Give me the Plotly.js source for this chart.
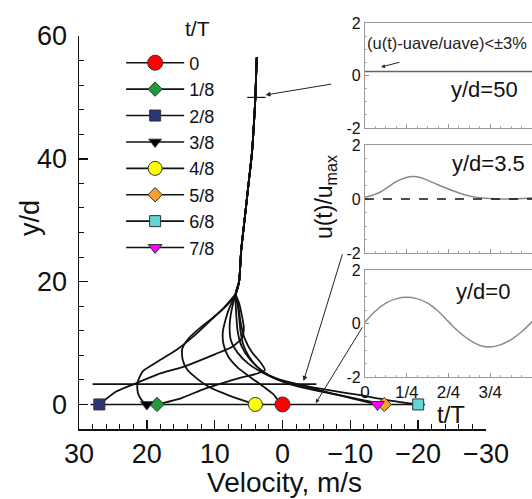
<!DOCTYPE html>
<html><head><meta charset="utf-8">
<script src="https://cdn.plot.ly/plotly-3.0.1.min.js"></script>
<style>html,body{margin:0;padding:0;background:#fff}</style>
</head><body><div id="chart" style="width:532px;height:499px"></div>
<script>
// ---- data ----
const phases = ['0','1/8','2/8','3/8','4/8','5/8','6/8','7/8'];
// near-wall part of each velocity profile (m/s vs y/d)
const p0x = [0, 0.6, 1.3, 2.8, 4.7, 6.6, 8.0, 8.7, 8.8, 8.4, 7.8, 7.2];
const p0y = [0, 0.6, 1.6, 2.9, 4.4, 6.0, 7.8, 9.8, 11.8, 13.8, 15.8, 17.2];
const p1x = [18.5, 15, 11.6, 8.5, 6.0, 3.8, 2.6, 3.2, 4.5, 5.6, 6.2, 6.5];
const p1y = [0, 1.0, 2.5, 3.6, 4.4, 5.0, 5.6, 6.8, 8.5, 10.8, 13.5, 16];
const p2x = [27, 24.5, 21.7, 18.4, 15, 12.8, 9.9, 7.4, 6.0, 5.7, 6.0, 6.4];
const p2y = [0, 2.1, 3.4, 4.9, 6.0, 6.9, 8.2, 9.4, 10.8, 12.5, 14.5, 16.5];
const p3x = [20, 20.6, 21.2, 21.4, 21.3, 20.6, 18.4, 15.6, 13.0, 10.5, 8.6, 7.5];
const p3y = [0, 0.5, 1.5, 2.5, 3.8, 5.4, 7.0, 8.9, 11.2, 13.8, 15.8, 17.2];
const p4x = [4, 6.5, 9.1, 11.2, 12.6, 14.0, 14.7, 14.8, 13.8, 11.8, 9.5, 7.8];
const p4y = [0, 0.9, 2.0, 3.1, 4.2, 5.6, 7.2, 9.0, 10.8, 12.8, 14.8, 16.6];
const p5x = [-15, -11.5, -7.5, -3.5, -0.5, 2.0, 3.8, 5.0, 5.8, 6.2, 6.4, 6.6];
const p5y = [0, 0.8, 1.7, 2.6, 3.5, 4.7, 6.2, 7.9, 9.8, 12, 14.2, 16.2];
const p6x = [-20, -15, -11.5, -7.5, -2.7, 0.5, 2.8, 4.7, 6.0, 6.6, 6.8, 6.9];
const p6y = [0, 0.8, 1.5, 2.2, 3.2, 4.1, 5.3, 7.2, 9.4, 11.8, 14.3, 16.5];
const p7x = [-14, -10.5, -7, -3.2, 0.3, 2.8, 5.0, 6.6, 7.6, 7.8, 7.6, 7.2];
const p7y = [0, 0.9, 1.9, 2.9, 3.9, 5.1, 6.6, 8.4, 10.4, 12.6, 14.8, 16.8];
// common upper part of all profiles
const stemX = [6.9, 6.4, 6.1, 5.6, 5.0, 4.5, 4.2, 4.0, 3.8];
const stemY = [18, 20, 25, 30, 36, 41, 46, 50, 56.5];
// wall velocity for each phase (marker at y/d = 0)
const wallU = [0, 18.5, 27, 20, 4, -15, -20, -14];
const wallY = [0, 0, 0, 0, 0, 0, 0, 0];

// insets: u(t)/umax over one period
const ins1T = [0, 0.25, 0.5, 0.75, 1];
const ins1U = [0.15, 0.15, 0.15, 0.15, 0.15];
const ins2T = [0, 0.05, 0.09, 0.14, 0.18, 0.23, 0.28, 0.33, 0.38, 0.44, 0.5, 0.56, 0.62, 0.67, 0.72, 0.8, 0.9, 1.0];
const ins2U = [0.06, 0.15, 0.25, 0.45, 0.62, 0.76, 0.83, 0.8, 0.68, 0.52, 0.37, 0.23, 0.12, 0.06, 0.03, 0.0, 0.01, 0.05];
const ins3T = [0, 0.06, 0.125, 0.19, 0.25, 0.31, 0.375, 0.44, 0.5, 0.56, 0.625, 0.69, 0.75, 0.81, 0.875, 0.94, 1];
const ins3U = [0.05, 0.45, 0.76, 0.93, 0.98, 0.93, 0.76, 0.45, 0.07, -0.3, -0.61, -0.82, -0.88, -0.8, -0.6, -0.3, 0.07];
const insTickVals = [0, 0.25, 0.5, 0.75, 1];
const insTickText = ['0', '1/4', '2/4', '3/4', '1'];

// ---- styles ----
const symbols = ['circle','diamond','square','triangle-down','circle','diamond','square','triangle-down'];
const colors = ['#ff0000','#1f9a3c','#2b3577','#000000','#ffff00','#f7a030','#5fd7d7','#ff00ff'];
const sizes = [15, 11, 11, 11, 14, 11, 11, 12];

const profX = [p0x,p1x,p2x,p3x,p4x,p5x,p6x,p7x];
const profY = [p0y,p1y,p2y,p3y,p4y,p5y,p6y,p7y];

const traces = [];
for (let i = 0; i < 8; i++) {
  traces.push({
    x: profX[i].concat(stemX), y: profY[i].concat(stemY),
    mode: 'lines', line: {color: '#111', width: 1.8, shape: 'spline', smoothing: 0.6},
    showlegend: false, hoverinfo: 'skip', xaxis: 'x', yaxis: 'y'
  });
}
for (let i = 0; i < 8; i++) {
  traces.push({
    x: [wallU[i]], y: [wallY[i]], name: phases[i],
    mode: 'lines+markers', line: {color: '#111', width: 1.6},
    marker: {symbol: symbols[i], color: colors[i], size: sizes[i], line: {color: '#333', width: 1}},
    cliponaxis: false, xaxis: 'x', yaxis: 'y'
  });
}
traces.push({x: ins1T, y: ins1U, mode: 'lines', line: {color: '#666', width: 1.5}, showlegend: false, xaxis: 'x2', yaxis: 'y2'});
traces.push({x: ins2T, y: ins2U, mode: 'lines', line: {color: '#8a8a8a', width: 1.5, shape: 'spline'}, showlegend: false, xaxis: 'x3', yaxis: 'y3'});
traces.push({x: ins3T, y: ins3U, mode: 'lines', line: {color: '#8a8a8a', width: 1.5, shape: 'spline'}, showlegend: false, xaxis: 'x4', yaxis: 'y4'});

const FONT = 'Liberation Sans, Arial, sans-serif';
const insX = (anchor, labels) => ({
  domain: [0.6313, 1], range: [0, 1], anchor: anchor,
  tickmode: 'array', tickvals: insTickVals, ticktext: insTickText,
  showticklabels: labels, ticks: 'inside', ticklen: 4, tickcolor: '#999',
  minor: {dtick: 0.0625, tick0: 0, ticks: 'inside', ticklen: 2, tickcolor: '#aaa'},
  showline: true, mirror: true, linecolor: '#999', linewidth: 1,
  showgrid: false, zeroline: false, tickfont: {size: 17, color: '#111'}
});
const insY = (anchor, dom) => ({
  domain: dom, range: [-2, 2], anchor: anchor,
  tickmode: 'array', tickvals: [-2, 0, 2], ticktext: ['-2', '0', '2'],
  ticks: 'inside', ticklen: 4, tickcolor: '#999',
  minor: {dtick: 0.5, tick0: 0, ticks: 'inside', ticklen: 2, tickcolor: '#aaa'},
  showline: true, mirror: true, linecolor: '#999', linewidth: 1,
  showgrid: false, zeroline: false, tickfont: {size: 16, color: '#111'}
});

const layout = {
  width: 532, height: 499,
  margin: {l: 79, r: 0, t: 20, b: 70},
  paper_bgcolor: '#fff', plot_bgcolor: 'rgba(0,0,0,0)',
  font: {family: FONT, color: '#111'},
  showlegend: true,
  legend: {
    x: 0.093, y: 0.94, xanchor: 'left', yanchor: 'top',
    bgcolor: 'rgba(0,0,0,0)', font: {size: 18, family: FONT},
    itemwidth: 58, tracegroupgap: 0, maxheight: 420
  },
  xaxis: {
    domain: [0, 0.8985], range: [30, -30], anchor: 'y',
    tickmode: 'linear', tick0: 0, dtick: 10,
    ticks: 'inside', ticklen: 9, tickwidth: 1.5, tickcolor: '#111',
    minor: {dtick: 2, tick0: 0, ticks: 'inside', ticklen: 5, tickwidth: 1, tickcolor: '#111'},
    showline: true, linewidth: 1.5, linecolor: '#111',
    showgrid: false, zeroline: false, tickfont: {size: 27}
  },
  yaxis: {
    domain: [0, 0.9609], range: [-4, 60], anchor: 'x',
    tickmode: 'linear', tick0: 0, dtick: 20,
    ticks: 'inside', ticklen: 9, tickwidth: 1.5, tickcolor: '#111',
    minor: {dtick: 4, tick0: 0, ticks: 'inside', ticklen: 5, tickwidth: 1, tickcolor: '#111'},
    showline: true, linewidth: 1.5, linecolor: '#111',
    showgrid: false, zeroline: false, tickfont: {size: 27}, ticklabelstandoff: 5
  },
  xaxis2: insX('y2', false), yaxis2: insY('x2', [0.7359, 0.9927]),
  xaxis3: insX('y3', false), yaxis3: insY('x3', [0.4303, 0.6944]),
  xaxis4: insX('y4', true),  yaxis4: insY('x4', [0.1271, 0.3888]),
  shapes: [
    {type: 'line', xref: 'x', yref: 'y', x0: 28.3, x1: -21, y0: 0, y1: 0, line: {color: '#111', width: 1.6}, layer: 'below'},
    {type: 'line', xref: 'x', yref: 'y', x0: 28, x1: -5, y0: 3.3, y1: 3.3, line: {color: '#111', width: 1.6}},
    {type: 'line', xref: 'x', yref: 'y', x0: 5.2, x1: 2.5, y0: 50, y1: 50, line: {color: '#111', width: 1.2}},
    {type: 'line', xref: 'x3', yref: 'y3', x0: 0, x1: 1, y0: 0, y1: 0, line: {color: '#111', width: 1.5, dash: 'dash'}}
  ],
  annotations: [
    {text: '', xref: 'x', yref: 'y', x: 2.5, y: 50.4, axref: 'x', ayref: 'y', ax: -7.4, ay: 52.2,
     showarrow: true, arrowhead: 2, arrowsize: 1, arrowwidth: 1, arrowcolor: '#222', standoff: 0},
    {text: '', xref: 'x', yref: 'y', x: -3.1, y: 3.8, axref: 'x', ayref: 'y', ax: -8.9, ay: 24.7,
     showarrow: true, arrowhead: 2, arrowsize: 1, arrowwidth: 1, arrowcolor: '#222', standoff: 0},
    {text: '', xref: 'x', yref: 'y', x: -4.9, y: 0.2, axref: 'x', ayref: 'y', ax: -11.9, ay: 12.8,
     showarrow: true, arrowhead: 2, arrowsize: 0.8, arrowwidth: 1, arrowcolor: '#222', standoff: 0},
    {text: '', xref: 'x2', yref: 'y2', x: 0.096, y: 0.32, axref: 'x2', ayref: 'y2', ax: 0.216, ay: 0.52,
     showarrow: true, arrowhead: 2, arrowsize: 0.8, arrowwidth: 1, arrowcolor: '#222', standoff: 0},
    {text: 't/T', xref: 'paper', yref: 'paper', x: 0.2605, y: 0.978, showarrow: false,
     font: {size: 21, color: '#111'}, xanchor: 'center', yanchor: 'middle'},
    {text: '(u(t)-uave/uave)<±3%', xref: 'paper', yref: 'paper', x: 0.8124, y: 0.9438,
     showarrow: false, font: {size: 16.5, color: '#222'}, xanchor: 'center', yanchor: 'middle'},
    {text: 'y/d=50', xref: 'paper', yref: 'paper', x: 0.896, y: 0.829, showarrow: false,
     font: {size: 22, color: '#111'}, xanchor: 'center', yanchor: 'middle'},
    {text: 'y/d=3.5', xref: 'paper', yref: 'paper', x: 0.903, y: 0.650, showarrow: false,
     font: {size: 22, color: '#111'}, xanchor: 'center', yanchor: 'middle'},
    {text: 'y/d=0', xref: 'paper', yref: 'paper', x: 0.892, y: 0.335, showarrow: false,
     font: {size: 22, color: '#111'}, xanchor: 'center', yanchor: 'middle'},
    {text: 'u(t)/u<sub>max</sub>', xref: 'paper', yref: 'paper', x: 0.543, y: 0.567, textangle: -90,
     showarrow: false, font: {size: 23, color: '#111'}, xanchor: 'center', yanchor: 'middle'},
    {text: 't/T', xref: 'paper', yref: 'paper', x: 0.821, y: 0.036, showarrow: false,
     font: {size: 24, color: '#111'}, xanchor: 'center', yanchor: 'middle'},
    {text: 'y/d', xref: 'paper', yref: 'paper', x: -0.108, y: 0.516, textangle: -90, showarrow: false,
     font: {size: 27, color: '#111'}, xanchor: 'center', yanchor: 'middle'},
    {text: 'Velocity, m/s', xref: 'paper', yref: 'paper', x: 0.4547, y: -0.132, showarrow: false,
     font: {size: 28, color: '#111'}, xanchor: 'center', yanchor: 'middle'}
  ]
};

Plotly.newPlot('chart', traces, layout, {displayModeBar: false, staticPlot: true});
</script></body></html>
